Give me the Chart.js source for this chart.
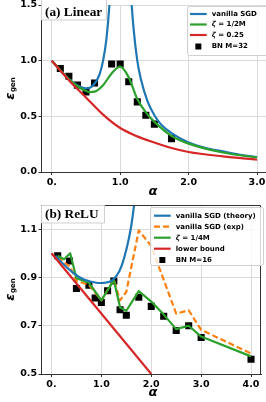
<!DOCTYPE html>
<html>
<head>
<meta charset="utf-8">
<script src="https://cdn.jsdelivr.net/npm/chart.js@4.4.1/dist/chart.umd.min.js"></script>
<style>
  html, body { margin: 0; padding: 0; background: #fff; overflow: hidden; }
  #wrap { position: relative; width: 266px; height: 402px; overflow: hidden; }
  #top { position: absolute; left: 0; top: 0; }
  #bottom { position: absolute; left: 0; top: 200px; }
</style>
</head>
<body>
<div id="wrap">
  <canvas id="top" width="280" height="200"></canvas>
  <canvas id="bottom" width="266" height="202"></canvas>
</div>
<script>
// ---- (a) Linear ----
const linSgdX = [0, 0.1, 0.2, 0.3, 0.4, 0.5, 0.6, 0.7, 0.75, 0.8, 0.85, 0.88, 1.0, 1.12, 1.15, 1.2, 1.25, 1.3, 1.4, 1.5, 1.6, 1.75, 2.0, 2.25, 2.5, 2.75, 3.0];
const linSgdY = [1.0, 0.93, 0.865, 0.81, 0.77, 0.752, 0.775, 0.88, 1.0, 1.2, 1.57, 1.95, null, 2.1, 1.67, 1.26, 1.0, 0.84, 0.635, 0.51, 0.425, 0.35, 0.265, 0.215, 0.185, 0.155, 0.135];
const linZetaX = [0, 0.125, 0.25, 0.375, 0.5, 0.56, 0.625, 0.75, 0.875, 1.0, 1.125, 1.25, 1.375, 1.5, 1.75, 2.0, 2.5, 3.0];
const linZetaY = [1.0, 0.915, 0.835, 0.77, 0.728, 0.718, 0.722, 0.78, 0.885, 0.946, 0.85, 0.655, 0.535, 0.45, 0.325, 0.255, 0.175, 0.13];
const linRidgeX = [0, 0.25, 0.5, 0.75, 1.0, 1.25, 1.5, 1.75, 2.0, 2.5, 3.0];
const linRidgeY = [1.0, 0.825, 0.67, 0.515, 0.395, 0.32, 0.265, 0.215, 0.18, 0.14, 0.11];
const linBnX = [0.125, 0.25, 0.375, 0.5, 0.625, 0.875, 1.0, 1.125, 1.25, 1.375, 1.5, 1.75];
const linBnY = [0.93, 0.86, 0.78, 0.72, 0.80, 0.97, 0.97, 0.81, 0.63, 0.51, 0.43, 0.30];
const linXTicks = [0, 1, 2, 3];
const linXTickLabels = ['0.', '1.0', '2.0', '3.0'];
const linYTicks = [0, 0.5, 1.0, 1.5];
const linYTickLabels = ['0.0', '0.5', '1.0', '1.5'];

// ---- (b) ReLU ----
const reluSgdX = [0.08, 0.2, 0.3, 0.4, 0.5, 0.6, 0.7, 0.8, 0.9, 1.0, 1.1, 1.2, 1.3, 1.4, 1.5, 1.55, 1.6, 1.65, 1.7];
const reluSgdY = [0.99, 0.963, 0.943, 0.925, 0.909, 0.897, 0.888, 0.882, 0.878, 0.877, 0.879, 0.886, 0.905, 0.945, 1.015, 1.06, 1.115, 1.19, 1.29];
const reluExpX = [0.125, 0.25, 0.375, 0.5, 0.75, 1.0, 1.25, 1.375, 1.5, 1.75, 2.0, 2.5, 2.75, 3.0, 4.0];
const reluExpY = [0.985, 0.962, 0.945, 0.885, 0.87, 0.805, 0.89, 0.805, 0.84, 1.095, 1.03, 0.75, 0.764, 0.683, 0.585];
const reluZetaX = [0.125, 0.25, 0.375, 0.5, 0.75, 1.0, 1.25, 1.375, 1.5, 1.75, 2.0, 2.25, 2.5, 2.75, 3.0, 4.0];
const reluZetaY = [0.99, 0.975, 1.0, 0.897, 0.878, 0.805, 0.889, 0.775, 0.762, 0.843, 0.80, 0.746, 0.686, 0.70, 0.655, 0.573];
const reluBoundX = [0, 2.0];
const reluBoundY = [1.0, 0.5];
const reluBnX = [0.125, 0.36, 0.5, 0.75, 0.875, 1.0, 1.125, 1.25, 1.375, 1.5, 1.75, 2.0, 2.25, 2.5, 2.75, 3.0, 4.0];
const reluBnY = [0.99, 0.968, 0.854, 0.868, 0.815, 0.796, 0.845, 0.885, 0.766, 0.743, 0.818, 0.78, 0.739, 0.68, 0.70, 0.651, 0.561];
const reluXTicks = [0, 1, 2, 3, 4];
const reluXTickLabels = ['0.', '1.0', '2.0', '3.0', '4.0'];
const reluYTicks = [0.5, 0.7, 0.9, 1.1];
const reluYTickLabels = ['0.5', '0.7', '0.9', '1.1'];

const BLUE = '#1f77b4', ORANGE = '#ff7f0e', GREEN = '#2ca02c', RED = '#d62728';

const pts = (xs, ys) => xs.map((x, i) => ({ x: x, y: ys[i] }));

function lineSet(label, xs, ys, color, order, extra) {
  return Object.assign({
    label: label, data: pts(xs, ys), borderColor: color, backgroundColor: color,
    borderWidth: 2.2, pointRadius: 0, fill: false, order: order, spanGaps: false
  }, extra || {});
}
function squareSet(label, xs, ys, order) {
  return {
    label: label, data: pts(xs, ys), showLine: false, pointStyle: 'rect',
    pointRadius: 5, pointBorderWidth: 0, backgroundColor: '#000', borderColor: '#000', order: order
  };
}

function axis(min, max, values, labels, isY) {
  return {
    type: 'linear', min: min, max: max,
    afterBuildTicks: s => { s.ticks = values.map(v => ({ value: v })); },
    afterFit: s => {
      if (isY) { s.width = 41.5; s.paddingTop = 0; s.paddingBottom = 0; }
      else { s.height = 28; s.paddingLeft = 0; s.paddingRight = 0; }
    },
    grid: { color: '#dadada', lineWidth: 1, drawTicks: true, tickLength: 3, tickColor: '#333', tickWidth: 1 },
    border: { display: true, color: '#333', width: 1 },
    ticks: {
      autoSkip: false, maxRotation: 0, padding: isY ? 1.5 : 2, color: '#000',
      font: { family: 'DejaVu Sans', weight: 'bold', size: 9.5 },
      callback: (v, i) => labels[i]
    }
  };
}

// panel title, legend and axis titles
const decor = {
  id: 'decor',
  afterDatasetsDraw(chart, args, o) {
    const ctx = chart.ctx, a = chart.chartArea;
    ctx.save();
    if (o.fullFrame) {
      ctx.strokeStyle = '#333'; ctx.lineWidth = 1;
      const t = Math.round(a.top) + 0.5, r = Math.round(a.right) - 0.5;
      ctx.beginPath();
      ctx.moveTo(a.left, t); ctx.lineTo(r, t); ctx.lineTo(r, a.bottom);
      ctx.stroke();
    }
    // panel title box
    const tb = o.titleBox;
    ctx.fillStyle = 'rgba(255,255,255,0.9)';
    ctx.strokeStyle = '#cfcfcf'; ctx.lineWidth = 1;
    ctx.beginPath(); ctx.rect(tb[0], tb[1], tb[2], tb[3]); ctx.fill(); ctx.stroke();
    ctx.fillStyle = '#000';
    ctx.font = 'bold 13.3px "Liberation Serif"';
    ctx.textBaseline = 'alphabetic'; ctx.textAlign = 'left';
    ctx.fillText(o.title, o.titlePos[0], o.titlePos[1]);

    // legend
    const lb = o.legendBox;
    ctx.fillStyle = 'rgba(255,255,255,0.8)';
    ctx.strokeStyle = '#d0d0d0';
    ctx.beginPath();
    if (ctx.roundRect) ctx.roundRect(lb[0], lb[1], lb[2], lb[3], 2); else ctx.rect(lb[0], lb[1], lb[2], lb[3]);
    ctx.fill(); ctx.stroke();
    chart.data.datasets.forEach((ds, i) => {
      const y = o.rows[i];
      if (ds.showLine === false) {
        ctx.fillStyle = ds.backgroundColor;
        ctx.fillRect((o.lineX[0] + o.lineX[1]) / 2 - 3, y - 3, 6, 6);
      } else {
        ctx.strokeStyle = ds.borderColor; ctx.lineWidth = 2.2;
        ctx.setLineDash(ds.borderDash || []);
        ctx.beginPath(); ctx.moveTo(o.lineX[0], y); ctx.lineTo(o.lineX[1], y); ctx.stroke();
        ctx.setLineDash([]);
      }
      ctx.fillStyle = '#000'; ctx.textBaseline = 'middle';
      let x = o.textX, txt = ds.label;
      if (txt.startsWith('ζ')) {
        ctx.font = 'italic bold 7px "DejaVu Sans"';
        ctx.fillText('ζ', x, y);
        x += ctx.measureText('ζ').width;
        txt = txt.slice(1);
      }
      ctx.font = 'bold 7px "DejaVu Sans"';
      ctx.fillText(txt, x, y);
    });

    // x title
    ctx.fillStyle = '#000';
    ctx.font = 'italic bold 13px "DejaVu Sans"';
    ctx.textAlign = 'center'; ctx.textBaseline = 'alphabetic';
    ctx.fillText('α', o.alphaPos[0], o.alphaPos[1]);

    // y title: epsilon with subscript "gen"
    ctx.textAlign = 'left';
    ctx.font = 'italic bold 13px "DejaVu Sans"';
    const we = ctx.measureText('ε').width;
    ctx.font = 'bold 7px "DejaVu Sans"';
    const wg = ctx.measureText('gen').width;
    const cy = (a.top + a.bottom) / 2;
    ctx.translate(14, cy + (we + wg + 0.5) / 2);
    ctx.rotate(-Math.PI / 2);
    ctx.font = 'italic bold 13px "DejaVu Sans"';
    ctx.fillText('ε', 0, 0);
    ctx.font = 'bold 7px "DejaVu Sans"';
    ctx.fillText('gen', we + 0.5, 1);
    ctx.restore();
  }
};

function baseOptions(xAxis, yAxis, pad, decorOpts) {
  return {
    responsive: false, animation: false, devicePixelRatio: 1,
    layout: { padding: pad },
    scales: { x: xAxis, y: yAxis },
    elements: { line: { borderCapStyle: 'butt', borderJoinStyle: 'round' } },
    plugins: { legend: { display: false }, tooltip: { enabled: false }, decor: decorOpts }
  };
}

new Chart(document.getElementById('top'), {
  type: 'scatter',
  plugins: [decor],
  data: {
    datasets: [
      lineSet('vanilla SGD', linSgdX, linSgdY, BLUE, 3, { showLine: true, cubicInterpolationMode: 'monotone' }),
      lineSet('ζ = 1/2M', linZetaX, linZetaY, GREEN, 2, { showLine: true, cubicInterpolationMode: 'monotone' }),
      lineSet('ζ = 0.25', linRidgeX, linRidgeY, RED, 1, { showLine: true, cubicInterpolationMode: 'monotone' }),
      squareSet('BN M=32', linBnX, linBnY, 4)
    ]
  },
  options: baseOptions(
    axis(-0.15, 3.15, linXTicks, linXTickLabels, false),
    axis(0, 1.5, linYTicks, linYTickLabels, true),
    { top: 3, right: 12.7, left: 0, bottom: 0 },
    {
      fullFrame: false, title: '(a) Linear', titleBox: [41.5, -1, 65, 21], titlePos: [45, 16],
      legendBox: [187.5, 6.5, 85, 49], rows: [14, 24.5, 35, 46.5], lineX: [190, 206.7], textX: 211.7,
      alphaPos: [153, 195]
    })
});

new Chart(document.getElementById('bottom'), {
  type: 'scatter',
  plugins: [decor],
  data: {
    datasets: [
      lineSet('vanilla SGD (theory)', reluSgdX, reluSgdY, BLUE, 2, { showLine: true, cubicInterpolationMode: 'monotone' }),
      lineSet('vanilla SGD (exp)', reluExpX, reluExpY, ORANGE, 4, { showLine: true, borderDash: [6, 3] }),
      lineSet('ζ = 1/4M', reluZetaX, reluZetaY, GREEN, 3, { showLine: true }),
      lineSet('lower bound', reluBoundX, reluBoundY, RED, 1, { showLine: true }),
      squareSet('BN M=16', reluBnX, reluBnY, 5)
    ]
  },
  options: baseOptions(
    axis(-0.2, 4.2, reluXTicks, reluXTickLabels, false),
    axis(0.5, 1.2, reluYTicks, reluYTickLabels, true),
    { top: 5, right: 1.8, left: 0, bottom: 0 },
    {
      fullFrame: true, title: '(b) ReLU', titleBox: [41.5, 5.5, 63, 17.5], titlePos: [45, 18.3],
      legendBox: [150.5, 7.5, 113, 58], rows: [15.7, 26.7, 37.7, 48.7, 60], lineX: [154, 170.7], textX: 175.7,
      alphaPos: [153, 196]
    })
});
</script>
</body>
</html>
